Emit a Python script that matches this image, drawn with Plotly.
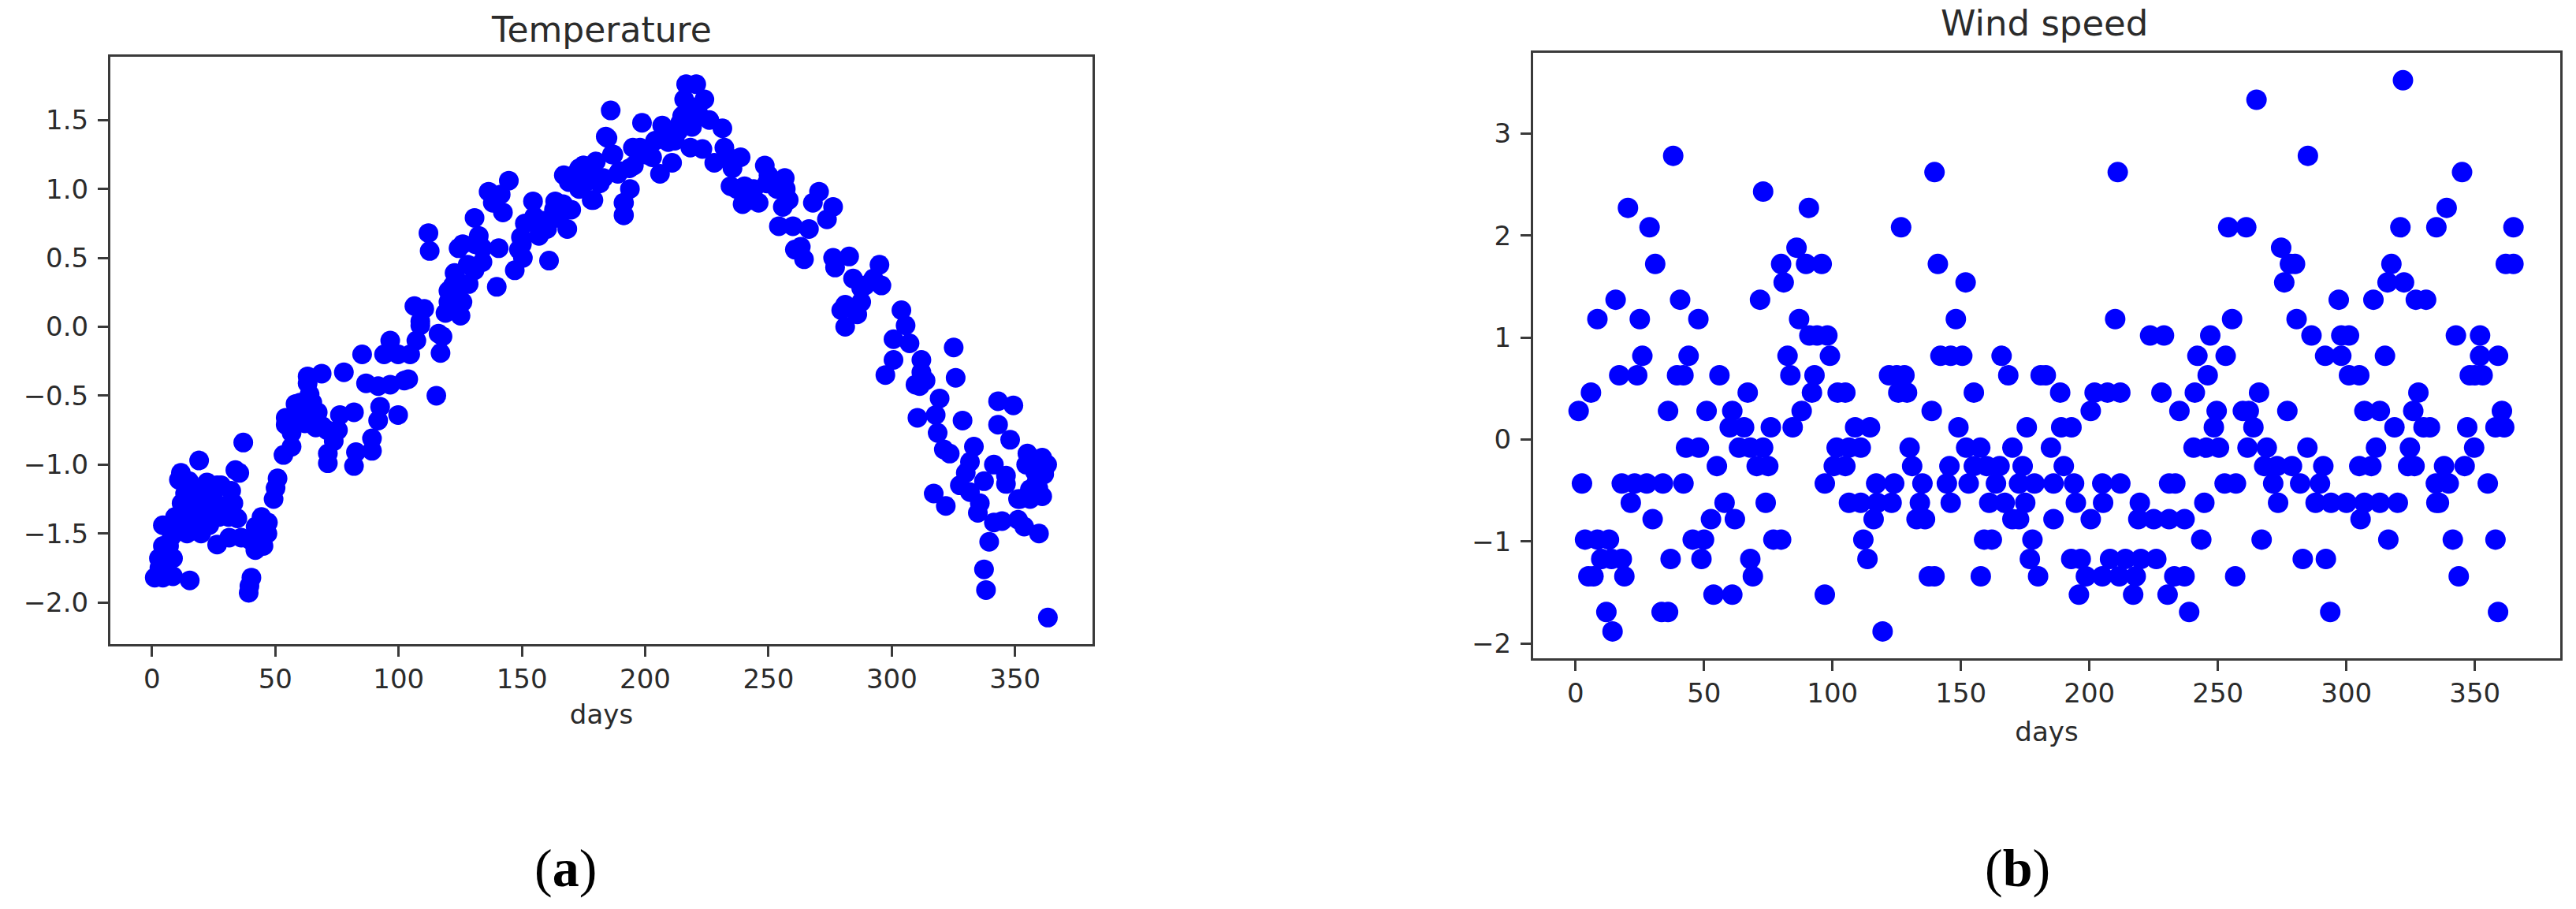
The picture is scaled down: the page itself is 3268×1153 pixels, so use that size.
import plotly.graph_objects as go

temp_days = [
    1.1, 4.4, 8.5, 15.3, 2.8, 6, 8.5, 4.4, 6.9, 4.4, 9.3, 13.4, 8.5, 14.2, 19.9, 16.6, 21.5, 25.6, 27.2, 34.6,
    44.4, 46.8, 45.2, 41.9, 36.2, 31.3, 26.4, 23.2, 18.3, 23.2, 13.4, 16.6, 11.7, 10.9, 19.1, 22.3, 26.4, 32.1, 33.8, 35.4,
    37, 40.3, 39.5, 39.2, 50.9, 50.1, 49.3, 53.3, 56.6, 56.6, 54.2, 54.2, 58.2, 62.3, 67.2, 66.4, 63.9, 63.1, 63.1, 68.8,
    77.8, 85.2, 71.3, 71.3, 73.7, 75.4, 76.2, 81.9, 81.9, 82.7, 89.2, 89.2, 91.7, 92.5, 99.8, 86.8, 91.7, 96.6, 102.3, 103.9,
    94.1, 96.6, 99.8, 104.7, 107.2, 108.8, 116.2, 117, 115.3, 117.8, 106.4, 110.4, 108.8, 125.1, 120.2, 120.2, 122.7, 128.4, 125.9, 130.8,
    112.1, 112.6, 124.3, 132.5, 130.8, 140.6, 139.8, 147.1, 150.4, 149.6, 156.9, 161, 136.5, 138.2, 142.3, 141.4, 144.7, 154.5, 163.5, 166.7,
    170, 168.4, 158.6, 160.2, 165.1, 173.2, 171.6, 174.9, 178.1, 179, 184.7, 186, 187.1, 183, 191.2, 191.2, 189.6, 193.6, 134, 125.9,
    122.7, 151.2, 148.8, 173.2, 175, 171.8, 172.6, 178.3, 181.6, 184, 186.5, 191.4, 191.4, 193.8, 188.9, 195.4, 198.7, 197.9, 202.8, 206,
    206.9, 209.3, 213.4, 210.9, 216.6, 220.7, 215.8, 224, 215, 221.5, 218.3, 223.2, 214.2, 228, 231.3, 232.1, 238.7, 235.4, 234.6, 239.5,
    246, 248.5, 249.3, 256.6, 258.2, 255.8, 254.2, 259.9, 266.4, 263.1, 260.7, 264.4, 270.5, 268, 276.2, 273.7, 276.2, 282.7, 277, 284.3,
    289.2, 295, 295.8, 281.1, 287.6, 279.5, 281.1, 303.9, 305.6, 300.7, 307.2, 325.1, 300.7, 312, 297.4, 312, 325.9, 311.3, 287.6, 286,
    292.5, 233.8, 243.6, 253.4, 240.3, 313.7, 309.6, 319.4, 310.4, 317.8, 328.7, 318.6, 321.1, 323.5, 333.3, 331.7, 330, 343.1, 349.3, 343.1,
    348, 355, 361, 354.5, 361.8, 341.4, 346.3, 346.3, 337.4, 327.6, 331.7, 317, 321.9, 335.7, 334.9, 341.4, 344.7, 351.2, 353.7, 359.7,
    339.5, 337.4, 338.2, 363.3, 351.2, 356.1, 361, 358.6, 359.4,
    # denser parts of the clusters
    218, 212, 226, 204, 200, 195, 219, 250, 244, 243, 257, 237, 180, 176, 167, 169, 155, 157, 162, 163,
    150, 128, 126, 134, 131, 122, 119, 58, 60, 62, 55, 69, 71, 65, 16, 19, 22, 25, 29, 28,
    31, 33, 12, 15, 40, 42, 47, 6, 3, 8, 358, 356, 363, 352,
]
temp_values = [
    -1.82, -1.82, -1.81, -1.84, -1.68, -1.68, -1.68, -1.59, -1.59, -1.44, -1.38, -1.38, -1.44, -1.50, -1.50, -1.42, -1.40, -1.33, -1.38, -1.39,
    -1.38, -1.50, -1.59, -1.62, -1.53, -1.53, -1.58, -1.44, -1.29, -1.32, -1.21, -1.19, -1.06, -1.11, -0.97, -1.13, -1.15, -1.19, -1.04, -1.06,
    -0.84, -1.82, -1.88, -1.93, -1.10, -1.17, -1.25, -0.93, -0.87, -0.77, -0.71, -0.66, -0.56, -0.64, -0.62, -0.73, -0.49, -0.41, -0.36, -0.34,
    -0.33, -0.20, -0.99, -0.92, -0.83, -0.75, -0.64, -0.62, -1.01, -0.91, -0.90, -0.81, -0.68, -0.58, -0.64, -0.41, -0.43, -0.42, -0.39, -0.38,
    -0.20, -0.10, -0.20, -0.20, -0.10, 0.01, -0.05, -0.19, -0.50, -0.07, 0.15, 0.13, 0.04, 0.08, 0.18, 0.26, 0.39, 0.31, 0.18, 0.41,
    0.68, 0.55, 0.57, 0.66, 0.79, 0.57, 0.29, 0.41, 0.50, 0.65, 0.66, 0.48, 0.98, 0.90, 0.83, 0.96, 1.06, 0.91, 0.91, 0.89,
    0.85, 0.71, 0.77, 0.71, 0.79, 1.15, 1.06, 1.17, 1.10, 0.92, 1.37, 1.57, 1.25, 1.08, 0.81, 0.90, 1.13, 1.15, 0.47, 0.31,
    0.24, 0.75, 0.56, 1.00, 1.17, 1.11, 1.04, 0.92, 1.04, 1.38, 1.25, 0.81, 0.90, 1.00, 1.11, 1.17, 1.48, 1.30, 1.23, 1.11,
    1.46, 1.34, 1.42, 1.19, 1.76, 1.76, 1.65, 1.65, 1.53, 1.55, 1.30, 1.29, 1.48, 1.19, 1.44, 1.30, 1.23, 1.15, 1.02, 0.89,
    0.90, 1.17, 1.04, 1.08, 0.92, 0.87, 0.73, 0.73, 0.71, 0.58, 0.56, 0.49, 0.98, 0.90, 0.87, 0.78, 0.50, 0.51, 0.43, 0.35,
    0.30, 0.45, 0.30, 0.16, 0.18, 0.12, 0.00, 0.12, 0.01, -0.09, -0.12, -0.15, -0.24, -0.24, -0.35, -0.33, -0.37, -0.43, 0.28, 0.09,
    0.35, 1.23, 0.94, 1.00, 1.02, -0.39, -0.42, -0.52, -0.66, -0.64, -0.68, -0.77, -0.89, -0.92, -0.87, -0.98, -1.06, -0.54, -0.57, -0.71,
    -0.82, -0.92, -0.95, -1.00, -1.07, -1.00, -1.08, -1.14, -1.12, -1.15, -1.20, -1.21, -1.30, -1.28, -1.35, -1.42, -1.41, -1.40, -1.45, -1.50,
    -1.56, -1.76, -1.91, -2.11, -1.25, -1.25, -1.23, -1.13, -1.17,
    1.60, 1.35, 1.50, 1.35, 1.25, 1.30, 1.45, 1.10, 1.00, 0.92, 1.00, 1.00, 1.20, 1.05, 1.10, 1.05, 0.80, 0.72, 0.78, 0.85,
    0.60, 0.45, 0.60, 0.57, 0.60, 0.30, 0.10, -0.65, -0.55, -0.70, -0.72, -0.72, -0.75, -0.55, -1.30, -1.35, -1.25, -1.20, -1.30, -1.15,
    -1.38, -1.28, -1.28, -1.12, -1.55, -1.45, -1.42, -1.75, -1.75, -1.52, -1.05, -1.18, -1.00, -1.25,
]

# wind speed sits on discrete levels, so days are grouped per level
wind_levels = [
    3.52, 3.33, 2.78, 2.62, 2.43, 2.27, 2.08, 1.88, 1.72, 1.54, 1.37, 1.18, 1.02, 0.82, 0.63,
    0.46, 0.28, 0.12, -0.08, -0.26, -0.43, -0.62, -0.78, -0.98, -1.17, -1.34, -1.52, -1.69, -1.88,
]
wind_days = [
    [322],
    [265],
    [38, 285],
    [139.7, 211, 345],
    [73],
    [20.4, 90.8, 339],
    [28.8, 126.7, 254, 261, 321, 335, 365],
    [86, 274.6],
    [31, 80, 89.7, 95.8, 141, 278, 280, 317.5, 362, 365],
    [81, 151.8, 275.8, 316, 322.4],
    [15.6, 40.7, 71.8, 297, 310.5, 327, 331],
    [8.5, 25, 47.8, 87, 148, 210, 255.5, 280.6],
    [91, 94, 98, 223.6, 229, 247, 286.4, 298, 301, 342.6, 352],
    [26, 44, 82.5, 99, 142, 146, 150.5, 165.8, 242, 253, 291.7, 298, 315, 352, 359],
    [17, 24, 39.5, 42, 56, 83.6, 93, 122, 125, 128, 168.4, 181, 183, 246, 301, 305, 348, 350, 353],
    [6, 67, 92, 102, 105, 125.6, 129, 155, 188.6, 202, 207, 212, 228, 241, 266, 328],
    [1.2, 36, 51, 61, 88, 138.6, 200.5, 235, 249.5, 259.7, 262, 277, 307, 313, 326, 360.5],
    [60, 65.6, 76, 84.5, 108.8, 114.6, 149, 175.6, 189, 193, 248.4, 263.8, 318.7, 330, 332.5, 347, 358, 361.4],
    [43, 48, 63.6, 68, 73, 101.6, 106.4, 111, 130, 152, 157.5, 170, 185, 240.5, 245.4, 250.4, 261.5, 269, 284.8, 311.5, 324.7, 349.7],
    [55, 70.5, 75, 100.5, 105, 131, 145.5, 155, 160, 165, 174, 190, 268, 273, 278.8, 291, 305, 309.7, 324, 326.5, 338, 346],
    [2.5, 18, 23, 27.7, 34, 42, 97, 117, 124, 135, 144.5, 153, 163.6, 172.6, 178.6, 186, 194, 205, 212, 231, 233.4, 252.6, 257, 271.5, 282, 289.7, 334.8, 339.8, 355],
    [21.5, 58, 74, 106.4, 111, 117.4, 123, 134, 146, 161, 167, 175, 194.7, 205.3, 219.6, 244.7, 273.4, 288, 294, 300, 307, 313, 320, 335, 336],
    [30, 52.7, 62, 116, 132.7, 136, 170, 172.6, 186, 200.5, 219, 225, 231, 237, 305.5],
    [3.7, 8.5, 13, 45.6, 50, 77, 80, 112, 159, 162, 177.8, 243.5, 267, 316.3, 341.4, 358],
    [10, 14, 18, 37, 49, 68, 113.6, 176.8, 192.9, 196.6, 208, 214, 220, 226, 283, 292],
    [5, 7, 19, 69, 137.5, 139.7, 157.7, 180, 198.6, 205, 211.6, 218, 233, 237, 256.7, 343.7],
    [53.7, 61, 97, 195.9, 217, 230.4],
    [12, 33.5, 36, 238.8, 293.7, 359],
    [14.4, 119.5],
]

x_ticks = [0, 50, 100, 150, 200, 250, 300, 350]
temp_ticks = [-2.0, -1.5, -1.0, -0.5, 0.0, 0.5, 1.0, 1.5]
wind_ticks = [-2, -1, 0, 1, 2, 3]

WIDTH, HEIGHT = 3268, 1153
BLUE = "#0000ff"
TEXT = "#2b2b2b"
LINE = "#3a3a3a"

wind_x = [d for days in wind_days for d in days]
wind_y = [lvl for lvl, days in zip(wind_levels, wind_days) for _ in days]

fig = go.Figure()
fig.add_trace(go.Scatter(x=temp_days, y=temp_values, mode="markers", xaxis="x", yaxis="y",
                         marker=dict(color=BLUE, size=25, line_width=0)))
fig.add_trace(go.Scatter(x=wind_x, y=wind_y, mode="markers", xaxis="x2", yaxis="y2",
                         marker=dict(color=BLUE, size=26, line_width=0)))

axis_style = dict(showgrid=False, zeroline=False, showline=True, mirror=True, linecolor=LINE, linewidth=3,
                  ticks="outside", ticklen=13, tickwidth=3, tickcolor=LINE,
                  tickfont=dict(family="DejaVu Sans", size=34, color=TEXT))
days_font = dict(family="DejaVu Sans", size=34, color=TEXT)

fig.update_layout(
    width=WIDTH,
    height=HEIGHT,
    margin=dict(l=0, r=0, t=0, b=0),
    paper_bgcolor="white",
    plot_bgcolor="white",
    showlegend=False,
    xaxis=dict(domain=[140 / WIDTH, 1386 / WIDTH], range=[-16.9, 381.4], tickvals=x_ticks,
               title=dict(text="days", font=days_font, standoff=14), anchor="y", **axis_style),
    yaxis=dict(domain=[1 - 818 / HEIGHT, 1 - 72 / HEIGHT], range=[-2.30, 1.96], tickvals=temp_ticks,
               tickformat=".1f", ticklabelstandoff=5, anchor="x", **axis_style),
    xaxis2=dict(domain=[1945 / WIDTH, 3248 / WIDTH], range=[-16.5, 383.2], tickvals=x_ticks,
                title=dict(text="days", font=days_font, standoff=18), anchor="y2", **axis_style),
    yaxis2=dict(domain=[1 - 836 / HEIGHT, 1 - 67 / HEIGHT], range=[-2.14, 3.79], tickvals=wind_ticks,
                ticklabelstandoff=5, anchor="x2", **axis_style),
)

# panel titles and the (a)/(b) captions
labels = [
    ("Temperature", 763, 38, "DejaVu Sans", 44, TEXT),
    ("Wind speed", 2593, 30, "DejaVu Sans", 45, TEXT),
    ("(<b>a</b>)", 717, 1103, "Liberation Serif", 68, "black"),
    ("(<b>b</b>)", 2559, 1103, "Liberation Serif", 68, "black"),
]
for text, px, py, family, size, color in labels:
    fig.add_annotation(text=text, x=px / WIDTH, y=1 - py / HEIGHT, xref="paper", yref="paper",
                       xanchor="center", yanchor="middle", showarrow=False,
                       font=dict(family=family, size=size, color=color))

# the page's default body margin would push the figure 8px off
fig.write_html("out.html", config=dict(displayModeBar=False),
               post_script="document.body.style.margin = '0';")
